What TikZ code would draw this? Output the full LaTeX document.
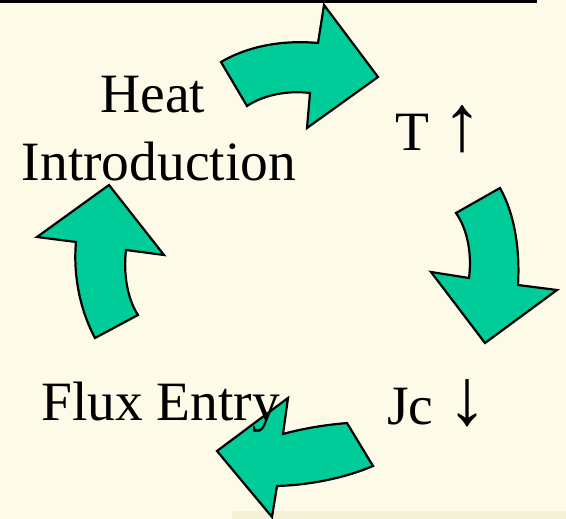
\documentclass[tikz,border=0pt]{standalone}
\usepackage{fontspec}
\setmainfont{Liberation Serif}
\definecolor{bgcol}{HTML}{FDFBE8}
\definecolor{stripcol}{HTML}{F3F0D6}
\definecolor{arrowcol}{HTML}{00CC99}
\tikzset{
  cyclearrow/.style={fill=arrowcol, draw=black, line width=2.2pt, line join=miter},
  lbl/.style={inner sep=0pt, font=\fontsize{55.5}{60}\selectfont, text=black},
}
\newcommand{\bigarr}[1]{{\fontsize{80}{80}\selectfont #1}}
\begin{document}
\begin{tikzpicture}[x=1pt,y=-1pt]
  \fill[bgcol] (0,0) rectangle (566,519);
  \useasboundingbox (0,0) rectangle (566,519);
  % top frame edge
  \draw[line width=3.5pt] (-10,-10) rectangle (535.5,1.5);
  % bottom right pale strip
  \fill[stripcol] (232,511) rectangle (566,519);

  % top arrow (Heat Introduction -> T)
  \draw[cyclearrow] (221,62) .. controls (250,45) and (285,40) .. (318,43)
     -- (324,5) -- (378,77) -- (307,128) -- (310,93)
     .. controls (285,90) and (262,96) .. (247,106) -- cycle;
  % right arrow (T -> Jc)
  \draw[cyclearrow] (456,213) -- (500,188)
     .. controls (515,215) and (520,250) .. (518,285)
     -- (557,290) -- (485,343) -- (431,272) -- (469,278)
     .. controls (472,255) and (468,230) .. (456,213) -- cycle;
  % bottom arrow (Jc -> Flux Entry)
  \draw[cyclearrow] (217,451) -- (288,398) -- (283,434)
     .. controls (305,428) and (325,425) .. (347,423)
     -- (373,466)
     .. controls (345,478) and (310,485) .. (277,486)
     -- (272,517) -- cycle;
  % left arrow (Flux Entry -> Heat Introduction)
  \draw[cyclearrow] (109,185) -- (164,255) -- (126,250)
     .. controls (123,275) and (128,300) .. (138,315)
     -- (95,338)
     .. controls (80,310) and (73,275) .. (76,242)
     -- (37,237) -- cycle;

  % labels
  \node[lbl, anchor=base] (heat) at (153,113) {Heat};
  \node[lbl, anchor=base] (intro) at (159,180) {Introduction};
  \node[lbl, anchor=base west] (temp) at (395,150) {T \bigarr{↑}};
  \node[lbl, anchor=base west] (jc) at (387,424) {Jc \bigarr{↓}};
  \node[lbl, anchor=base west] (flux) at (41,420) {Flux Entry};
\end{tikzpicture}
\end{document}
